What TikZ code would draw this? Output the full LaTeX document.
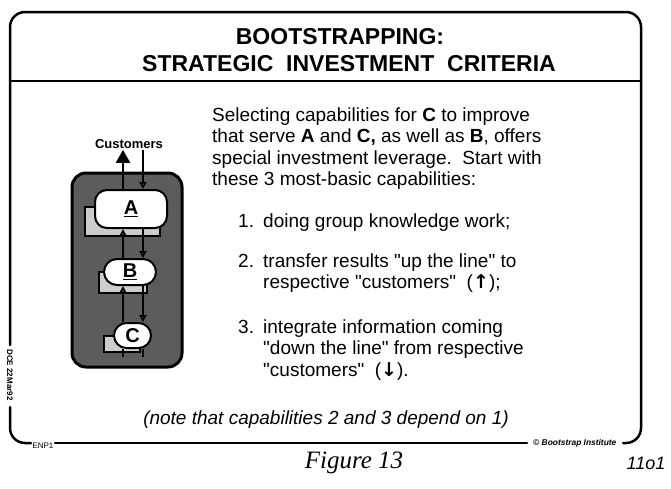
\documentclass[tikz,border=0pt]{standalone}
\usepackage{fontspec}
\setmainfont{Liberation Sans}
\newfontfamily\figserif{Liberation Serif}
\newfontfamily\symfont{DejaVu Sans}
\newcommand{\dq}{\textquotedbl}
\usetikzlibrary{arrows.meta}
\tikzset{
  frame/.style={line width=2.5pt, line cap=round},
  titletext/.style={inner sep=0pt, font=\fontsize{23}{27}\selectfont\bfseries},
  bodytext/.style={anchor=base west, inner sep=0pt, font=\fontsize{19}{21.5}\selectfont},
  tinytext/.style={inner sep=0pt, font=\fontsize{8}{9}\selectfont},
  darkbox/.style={draw=black, line width=3pt, fill=black!64, rounded corners=14pt, minimum width=110pt, minimum height=194pt, inner sep=0pt},
  capbox/.style={draw=black, line width=2pt, fill=white, inner sep=0pt, font=\fontsize{20}{22}\selectfont\bfseries},
  shadowbox/.style={draw=black, line width=1.2pt, fill=black!20, inner sep=0pt},
  link/.style={line width=1.8pt},
  smallhead/.style={-{Triangle[width=7pt,length=7pt,fill=black!45]}},
}
\begin{document}
\begin{tikzpicture}[x=1pt,y=-1pt]
\useasboundingbox[fill=white] (0,0) rectangle (671,488);

% outer frame
\draw[frame, rounded corners=15pt] (10,407) -- (10,443) -- (31,443);
\draw[frame] (55,443) -- (527,443);
\draw[frame, rounded corners=15pt] (623,443) -- (641,443) -- (641,12) -- (10,12) -- (10,345);
\draw[line width=2pt] (10,81) -- (641,81);

% title
\node[titletext] (t1) at (340,37) {BOOTSTRAPPING:};
\node[titletext] (t2) at (349,64) {STRATEGIC\ \ INVESTMENT\ \ CRITERIA};

% body text
\node[bodytext] (l1) at (212,121) {Selecting capabilities for \textbf{C} to improve};
\node[bodytext] (l2) at (212,142.5) {that serve \textbf{A} and \textbf{C,} as well as \textbf{B}, offers};
\node[bodytext] (l3) at (212,164) {special investment leverage.\ \ Start with};
\node[bodytext] (l4) at (212,185.5) {these 3 most-basic capabilities:};
\node[bodytext] (n1) at (238,227) {1.};
\node[bodytext] (i1) at (263,227) {doing group knowledge work;};
\node[bodytext] (n2) at (238,267) {2.};
\node[bodytext] (i2a) at (263,267) {transfer results \dq up the line\dq{} to};
\node[bodytext] (i2b) at (263,288.5) {respective \dq customers\dq\ \ ({\symfont\bfseries ↑});};
\node[bodytext] (n3) at (238,333) {3.};
\node[bodytext] (i3a) at (263,333) {integrate information coming};
\node[bodytext] (i3b) at (263,354.5) {\dq down the line\dq{} from respective};
\node[bodytext] (i3c) at (263,376) {\dq customers\dq\ \ ({\symfont\bfseries ↓}).};

\node[anchor=base, inner sep=0pt, font=\fontsize{19}{21.5}\selectfont\itshape] (note) at (326,424) {(note that capabilities 2 and 3 depend on 1)};

% footer
\node[tinytext, rotate=-90, font=\fontsize{8}{9}\selectfont\bfseries] (dce) at (10,375) {DCE 22Mar92};
\node[tinytext] (enp) at (43,446) {ENP1};
\node[tinytext, anchor=west, font=\fontsize{8.4}{9}\selectfont\bfseries\itshape] (copy) at (533,443) {© Bootstrap Institute};
\node[anchor=base, inner sep=0pt, font=\figserif\fontsize{25}{27}\selectfont\itshape] (fig) at (354,468) {Figure 13};
\node[anchor=base, inner sep=0pt, font=\fontsize{18}{20}\selectfont\itshape] (pg) at (646,469) {11o1};

% diagram
\node[darkbox] (box) at (127,270) {};
\node[shadowbox, minimum width=75pt, minimum height=29pt] (As) at (122.5,221.5) {};
\node[shadowbox, minimum width=48pt, minimum height=21pt] (Bs) at (123,282.5) {};
\node[shadowbox, minimum width=36pt, minimum height=16pt] (Cs) at (122,344) {};

\node[font=\fontsize{13}{15}\selectfont\bfseries, inner sep=1pt] (cust) at (129,144) {Customers};
\coordinate (ux) at (123,0);
\coordinate (dx) at (143,0);
\coordinate (stub) at (0,357);

\node[capbox, minimum width=72pt, minimum height=38pt, rounded corners=12pt] (A) at (131,209) {\underline{A}};
\node[capbox, minimum width=52pt, minimum height=26pt, rounded corners=13pt] (B) at (130,272) {\underline{B}};
\node[capbox, minimum width=37pt, minimum height=25pt, rounded corners=12.5pt] (C) at (132.5,335.5) {C};

\draw[link, line width=2.2pt, -{Triangle[width=14pt,length=13pt]}] (A.north -| ux) -- (ux |- cust.south);
\draw[link, smallhead] (dx |- cust.south) -- (A.north -| dx);
\draw[link, smallhead] (B.north -| ux) -- (A.south -| ux);
\draw[link, smallhead] (A.south -| dx) -- (B.north -| dx);
\draw[link, smallhead] (C.north -| ux) -- (B.south -| ux);
\draw[link, smallhead] (B.south -| dx) -- (C.north -| dx);
\draw[link] (C.south -| ux) -- (ux |- stub);
\draw[link] (C.south -| dx) -- (dx |- stub);
\end{tikzpicture}
\end{document}
